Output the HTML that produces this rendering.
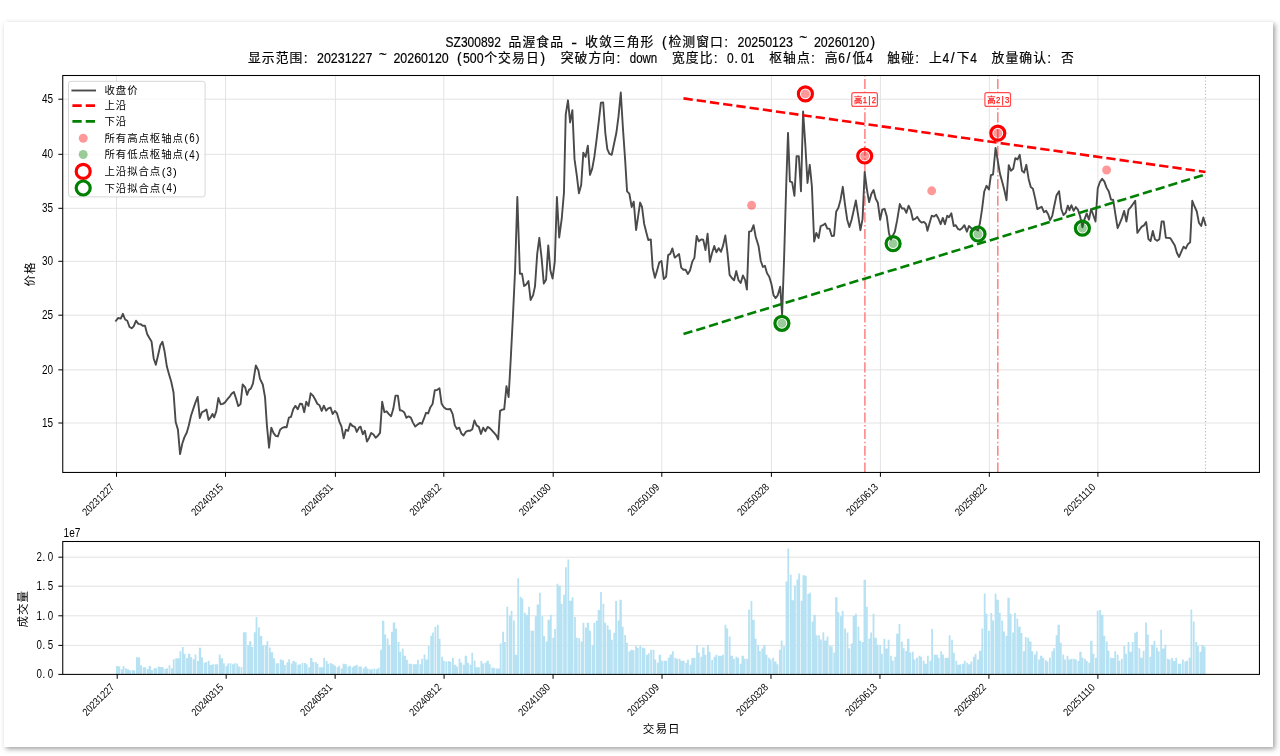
<!DOCTYPE html>
<html lang="zh-CN"><head><meta charset="utf-8"><title>SZ300892 品渥食品 - 收敛三角形</title>
<style>
html,body{margin:0;padding:0;background:#fff;}
body{width:1280px;height:756px;position:relative;overflow:hidden;}
.card{position:absolute;left:4px;top:22px;width:1269px;height:725px;background:#fff;box-shadow:2px 2px 5px rgba(0,0,0,0.38);}
svg{position:absolute;left:0;top:0;display:block;will-change:transform;}
text{white-space:pre;}
</style></head><body>
<div class="card"></div>
<svg width="1280" height="756" viewBox="0 0 1280 756" font-family='"Liberation Sans","Noto Sans CJK SC",sans-serif'>
<defs><clipPath id="cm"><rect x="62.75" y="75.5" width="1196.7" height="396.95"/></clipPath></defs>
<path d="M116.5 75.5V472.45M225.5 75.5V472.45M335.4 75.5V472.45M443.8 75.5V472.45M553.2 75.5V472.45M661.8 75.5V472.45M771.4 75.5V472.45M880.4 75.5V472.45M989.3 75.5V472.45M1097.9 75.5V472.45M62.75 423H1259.45M62.75 369.85H1259.45M62.75 315.2H1259.45M62.75 261.3H1259.45M62.75 208.3H1259.45M62.75 154.3H1259.45M62.75 99.2H1259.45" stroke="#e3e3e3" stroke-width="1" fill="none"/>
<path d="M62.75 645.4H1259.45M62.75 615.8H1259.45M62.75 586.2H1259.45M62.75 557.2H1259.45" stroke="#e3e3e3" stroke-width="1" fill="none"/>
<path d="M116.02 674.4v-8.28h2.42v8.28zM118.44 674.4v-7.81h1.81v7.81zM120.86 674.4v-5.16h1.81v5.16zM122.67 674.4v-8.28h1.81v8.28zM125.09 674.4v-6.25h1.81v6.25zM126.9 674.4v-5.16h2.42v5.16zM129.32 674.4v-3.91h1.81v3.91zM131.73 674.4v-4.38h1.81v4.38zM133.55 674.4v-3.91h1.81v3.91zM135.96 674.4v-17.19h1.81v17.19zM137.78 674.4v-16.88h2.42v16.88zM140.19 674.4v-9.06h1.81v9.06zM142.61 674.4v-7.03h1.81v7.03zM144.42 674.4v-7.03h1.81v7.03zM146.84 674.4v-5.47h1.81v5.47zM148.65 674.4v-8.28h2.42v8.28zM151.07 674.4v-4.38h1.81v4.38zM153.49 674.4v-6.25h1.81v6.25zM155.3 674.4v-6.25h1.81v6.25zM157.72 674.4v-7.81h1.81v7.81zM159.53 674.4v-7.34h2.42v7.34zM161.95 674.4v-7.03h1.81v7.03zM164.37 674.4v-5.47h1.81v5.47zM166.18 674.4v-6.25h1.81v6.25zM168.6 674.4v-9.06h1.81v9.06zM171.01 674.4v-6.25h1.81v6.25zM172.83 674.4v-15.16h1.81v15.16zM175.24 674.4v-16.09h1.81v16.09zM177.06 674.4v-16.09h2.42v16.09zM179.47 674.4v-23.12h1.81v23.12zM181.89 674.4v-27.34h1.81v27.34zM183.7 674.4v-20.31h1.81v20.31zM186.12 674.4v-16.41h1.81v16.41zM187.93 674.4v-20.62h2.42v20.62zM190.35 674.4v-17.19h1.81v17.19zM192.77 674.4v-15.16h1.81v15.16zM194.58 674.4v-20h1.81v20zM197 674.4v-13.28h1.81v13.28zM198.81 674.4v-26.56h2.42v26.56zM201.23 674.4v-16.88h1.81v16.88zM203.64 674.4v-11.72h1.81v11.72zM205.46 674.4v-12.5h1.81v12.5zM207.87 674.4v-13.75h1.81v13.75zM209.69 674.4v-9.38h2.42v9.38zM212.1 674.4v-10.16h1.81v10.16zM214.52 674.4v-10.16h1.81v10.16zM216.33 674.4v-10.16h1.81v10.16zM218.75 674.4v-20h1.81v20zM220.56 674.4v-16.09h2.42v16.09zM222.98 674.4v-11.25h1.81v11.25zM225.4 674.4v-8.28h1.81v8.28zM227.21 674.4v-10.94h1.81v10.94zM229.63 674.4v-11.25h1.81v11.25zM232.05 674.4v-10.16h1.81v10.16zM233.86 674.4v-11.25h1.81v11.25zM236.28 674.4v-10.94h1.81v10.94zM238.09 674.4v-7.81h1.81v7.81zM240.51 674.4v-7.5h1.81v7.5zM242.92 674.4v-42.19h1.81v42.19zM244.74 674.4v-42.19h1.81v42.19zM247.15 674.4v-29.38h1.81v29.38zM248.97 674.4v-33.12h2.42v33.12zM251.38 674.4v-27.34h1.81v27.34zM253.8 674.4v-42.19h1.81v42.19zM255.61 674.4v-57.34h1.81v57.34zM258.03 674.4v-47.19h1.81v47.19zM259.84 674.4v-38.28h2.42v38.28zM262.26 674.4v-28.91h1.81v28.91zM264.68 674.4v-29.38h1.81v29.38zM266.49 674.4v-33.12h1.81v33.12zM268.91 674.4v-26.88h1.81v26.88zM270.72 674.4v-22.19h2.42v22.19zM273.14 674.4v-16.09h1.81v16.09zM275.55 674.4v-11.25h1.81v11.25zM277.37 674.4v-11.25h1.81v11.25zM279.78 674.4v-15.16h1.81v15.16zM281.6 674.4v-14.06h2.42v14.06zM284.01 674.4v-9.38h1.81v9.38zM286.43 674.4v-12.19h1.81v12.19zM288.24 674.4v-15.16h1.81v15.16zM290.66 674.4v-10.94h1.81v10.94zM292.47 674.4v-13.28h2.42v13.28zM294.89 674.4v-12.19h1.81v12.19zM297.31 674.4v-9.69h1.81v9.69zM299.12 674.4v-10.16h1.81v10.16zM301.54 674.4v-11.41h1.81v11.41zM303.96 674.4v-11.41h1.81v11.41zM305.77 674.4v-10.16h1.81v10.16zM308.19 674.4v-7.03h1.81v7.03zM310 674.4v-16.41h2.42v16.41zM312.42 674.4v-12.5h1.81v12.5zM314.83 674.4v-12.5h1.81v12.5zM316.65 674.4v-10.62h1.81v10.62zM319.06 674.4v-7.03h1.81v7.03zM320.88 674.4v-7.03h2.42v7.03zM323.29 674.4v-16.72h1.81v16.72zM325.71 674.4v-13.28h1.81v13.28zM327.52 674.4v-10.62h1.81v10.62zM329.94 674.4v-11.41h1.81v11.41zM331.75 674.4v-10.16h2.42v10.16zM334.17 674.4v-8.59h1.81v8.59zM336.59 674.4v-7.03h1.81v7.03zM338.4 674.4v-8.59h1.81v8.59zM340.82 674.4v-5.78h1.81v5.78zM342.63 674.4v-10.62h2.42v10.62zM345.05 674.4v-10.16h1.81v10.16zM347.46 674.4v-7.81h1.81v7.81zM349.28 674.4v-8.59h1.81v8.59zM351.69 674.4v-7.03h1.81v7.03zM353.51 674.4v-8.59h2.42v8.59zM355.92 674.4v-9.69h1.81v9.69zM358.34 674.4v-7.81h1.81v7.81zM360.15 674.4v-7.81h1.81v7.81zM362.57 674.4v-5.78h1.81v5.78zM364.38 674.4v-7.81h2.42v7.81zM366.8 674.4v-5.78h1.81v5.78zM369.22 674.4v-5.16h1.81v5.16zM371.03 674.4v-5.16h1.81v5.16zM373.45 674.4v-5.78h1.81v5.78zM375.87 674.4v-5.16h1.81v5.16zM377.68 674.4v-6.72h1.81v6.72zM380.1 674.4v-24.69h1.81v24.69zM381.91 674.4v-53.59h2.42v53.59zM384.33 674.4v-39.84h1.81v39.84zM386.74 674.4v-35.94h1.81v35.94zM388.56 674.4v-29.38h1.81v29.38zM390.97 674.4v-42.66h1.81v42.66zM392.79 674.4v-51.88h2.42v51.88zM395.2 674.4v-45.78h1.81v45.78zM397.62 674.4v-32.34h1.81v32.34zM399.43 674.4v-22.66h1.81v22.66zM401.85 674.4v-25.78h1.81v25.78zM403.66 674.4v-18.75h2.42v18.75zM406.08 674.4v-14.53h1.81v14.53zM408.5 674.4v-10.62h1.81v10.62zM410.31 674.4v-10.62h1.81v10.62zM412.73 674.4v-10.16h1.81v10.16zM414.54 674.4v-10.16h2.42v10.16zM416.96 674.4v-14.53h1.81v14.53zM419.37 674.4v-10.16h1.81v10.16zM421.19 674.4v-15.62h1.81v15.62zM423.6 674.4v-19.84h1.81v19.84zM425.42 674.4v-14.84h2.42v14.84zM427.83 674.4v-28.44h1.81v28.44zM430.25 674.4v-38.59h1.81v38.59zM432.06 674.4v-41.88h1.81v41.88zM434.48 674.4v-47.66h1.81v47.66zM436.9 674.4v-49.69h1.81v49.69zM438.71 674.4v-35.62h1.81v35.62zM441.13 674.4v-17.66h1.81v17.66zM442.94 674.4v-13.75h1.81v13.75zM445.36 674.4v-12.97h1.81v12.97zM447.78 674.4v-13.28h1.81v13.28zM449.59 674.4v-12.5h1.81v12.5zM452.01 674.4v-16.72h1.81v16.72zM453.82 674.4v-9.69h2.42v9.69zM456.24 674.4v-7.81h1.81v7.81zM458.65 674.4v-15.62h1.81v15.62zM460.47 674.4v-11.72h1.81v11.72zM462.88 674.4v-9.69h1.81v9.69zM464.7 674.4v-18.75h2.42v18.75zM467.11 674.4v-11.72h1.81v11.72zM469.53 674.4v-9.69h1.81v9.69zM471.34 674.4v-21.56h1.81v21.56zM473.76 674.4v-13.75h1.81v13.75zM475.57 674.4v-7.03h2.42v7.03zM477.99 674.4v-7.03h1.81v7.03zM480.41 674.4v-13.28h1.81v13.28zM482.22 674.4v-10.94h1.81v10.94zM484.64 674.4v-11.72h1.81v11.72zM486.45 674.4v-13.75h2.42v13.75zM488.87 674.4v-10.16h1.81v10.16zM491.28 674.4v-6.72h1.81v6.72zM493.1 674.4v-6.72h1.81v6.72zM495.51 674.4v-5.78h1.81v5.78zM497.33 674.4v-5.78h2.42v5.78zM499.74 674.4v-30.78h1.81v30.78zM502.16 674.4v-42.66h1.81v42.66zM503.97 674.4v-32.34h1.81v32.34zM506.39 674.4v-67.66h1.81v67.66zM508.81 674.4v-58.59h1.81v58.59zM510.62 674.4v-63.59h1.81v63.59zM513.04 674.4v-53.91h1.81v53.91zM514.85 674.4v-19.53h2.42v19.53zM517.27 674.4v-96.09h1.81v96.09zM519.69 674.4v-77.66h1.81v77.66zM521.5 674.4v-75.78h1.81v75.78zM523.92 674.4v-61.72h1.81v61.72zM525.73 674.4v-59.69h2.42v59.69zM528.15 674.4v-67.66h1.81v67.66zM530.56 674.4v-43.75h1.81v43.75zM532.38 674.4v-43.75h1.81v43.75zM534.79 674.4v-58.12h1.81v58.12zM536.61 674.4v-69.84h2.42v69.84zM539.02 674.4v-81.56h1.81v81.56zM541.44 674.4v-58.12h1.81v58.12zM543.25 674.4v-38.28h1.81v38.28zM545.67 674.4v-32.81h1.81v32.81zM547.48 674.4v-54.69h2.42v54.69zM549.9 674.4v-59.69h1.81v59.69zM552.32 674.4v-36.72h1.81v36.72zM554.13 674.4v-45.31h1.81v45.31zM556.55 674.4v-90.62h1.81v90.62zM558.36 674.4v-88.59h2.42v88.59zM560.78 674.4v-70.62h1.81v70.62zM563.19 674.4v-79.69h1.81v79.69zM565.01 674.4v-107.03h1.81v107.03zM567.42 674.4v-114.84h1.81v114.84zM569.24 674.4v-73.75h2.42v73.75zM571.65 674.4v-77.03h1.81v77.03zM574.07 674.4v-57.5h1.81v57.5zM575.88 674.4v-36.72h1.81v36.72zM578.3 674.4v-36.25h1.81v36.25zM580.72 674.4v-32.81h1.81v32.81zM582.53 674.4v-51.56h1.81v51.56zM584.95 674.4v-46.88h1.81v46.88zM586.76 674.4v-51.56h2.42v51.56zM589.18 674.4v-43.75h1.81v43.75zM591.6 674.4v-28.91h1.81v28.91zM593.41 674.4v-51.56h1.81v51.56zM595.83 674.4v-53.59h1.81v53.59zM597.64 674.4v-64.38h2.42v64.38zM600.06 674.4v-82.5h1.81v82.5zM602.47 674.4v-70.62h1.81v70.62zM604.29 674.4v-51.56h1.81v51.56zM606.7 674.4v-49.22h1.81v49.22zM608.52 674.4v-44.53h2.42v44.53zM610.93 674.4v-34.69h1.81v34.69zM613.35 674.4v-41.72h1.81v41.72zM615.16 674.4v-73.44h1.81v73.44zM617.58 674.4v-53.91h1.81v53.91zM619.39 674.4v-74.69h2.42v74.69zM621.81 674.4v-47.66h1.81v47.66zM624.23 674.4v-39.38h1.81v39.38zM626.04 674.4v-31.72h1.81v31.72zM628.46 674.4v-22.97h1.81v22.97zM630.27 674.4v-24.69h2.42v24.69zM632.69 674.4v-24.22h1.81v24.22zM635.1 674.4v-28.44h1.81v28.44zM636.92 674.4v-26.56h1.81v26.56zM639.33 674.4v-28.91h1.81v28.91zM641.75 674.4v-26.88h1.81v26.88zM643.56 674.4v-26.25h1.81v26.25zM645.98 674.4v-19.53h1.81v19.53zM647.79 674.4v-21.09h1.81v21.09zM650.21 674.4v-24.69h1.81v24.69zM652.63 674.4v-24.69h1.81v24.69zM654.44 674.4v-14.84h1.81v14.84zM656.86 674.4v-11.72h1.81v11.72zM658.67 674.4v-19.53h2.42v19.53zM661.09 674.4v-13.75h1.81v13.75zM663.51 674.4v-13.75h1.81v13.75zM665.32 674.4v-13.75h1.81v13.75zM667.74 674.4v-16.72h1.81v16.72zM669.55 674.4v-19.84h2.42v19.84zM671.97 674.4v-23.12h1.81v23.12zM674.38 674.4v-16.72h1.81v16.72zM676.2 674.4v-15.62h1.81v15.62zM678.61 674.4v-15.62h1.81v15.62zM680.43 674.4v-13.75h2.42v13.75zM682.84 674.4v-13.75h1.81v13.75zM685.26 674.4v-11.72h1.81v11.72zM687.07 674.4v-14.84h1.81v14.84zM689.49 674.4v-9.69h1.81v9.69zM691.3 674.4v-16.41h2.42v16.41zM693.72 674.4v-16.72h1.81v16.72zM696.14 674.4v-29.38h1.81v29.38zM697.95 674.4v-21.56h1.81v21.56zM700.37 674.4v-17.66h1.81v17.66zM702.18 674.4v-26.88h2.42v26.88zM704.6 674.4v-19.53h1.81v19.53zM707.01 674.4v-29.38h1.81v29.38zM708.83 674.4v-22.66h1.81v22.66zM711.24 674.4v-14.53h1.81v14.53zM713.66 674.4v-17.66h1.81v17.66zM715.47 674.4v-19.53h1.81v19.53zM717.89 674.4v-18.75h1.81v18.75zM719.7 674.4v-18.75h2.42v18.75zM722.12 674.4v-19.53h1.81v19.53zM724.54 674.4v-49.69h1.81v49.69zM726.35 674.4v-45.78h1.81v45.78zM728.77 674.4v-37.81h1.81v37.81zM730.58 674.4v-18.75h2.42v18.75zM733 674.4v-15.62h1.81v15.62zM735.42 674.4v-17.66h1.81v17.66zM737.23 674.4v-16.72h1.81v16.72zM739.65 674.4v-10.62h1.81v10.62zM741.46 674.4v-18.75h2.42v18.75zM743.88 674.4v-15.62h1.81v15.62zM746.29 674.4v-15.62h1.81v15.62zM748.11 674.4v-64.84h1.81v64.84zM750.52 674.4v-73.44h1.81v73.44zM752.34 674.4v-54.69h2.42v54.69zM754.75 674.4v-35.62h1.81v35.62zM757.17 674.4v-29.38h1.81v29.38zM758.98 674.4v-23.44h1.81v23.44zM761.4 674.4v-25.78h1.81v25.78zM763.21 674.4v-29.38h2.42v29.38zM765.63 674.4v-19.53h1.81v19.53zM768.05 674.4v-16.72h1.81v16.72zM769.86 674.4v-14.84h1.81v14.84zM772.28 674.4v-16.72h1.81v16.72zM774.09 674.4v-12.81h2.42v12.81zM776.51 674.4v-10.16h1.81v10.16zM778.92 674.4v-24.69h1.81v24.69zM780.74 674.4v-33.91h1.81v33.91zM783.15 674.4v-28.12h1.81v28.12zM785.57 674.4v-92.97h1.81v92.97zM787.38 674.4v-125.78h1.81v125.78zM789.8 674.4v-99.69h1.81v99.69zM791.61 674.4v-74.22h2.42v74.22zM794.03 674.4v-88.59h1.81v88.59zM796.45 674.4v-94.84h1.81v94.84zM798.26 674.4v-100.78h1.81v100.78zM800.68 674.4v-73.75h1.81v73.75zM802.49 674.4v-99.22h2.42v99.22zM804.91 674.4v-98.75h1.81v98.75zM807.33 674.4v-80.47h1.81v80.47zM809.14 674.4v-81.56h1.81v81.56zM811.56 674.4v-52.81h1.81v52.81zM813.37 674.4v-59.69h2.42v59.69zM815.79 674.4v-39.06h1.81v39.06zM818.2 674.4v-39.06h1.81v39.06zM820.02 674.4v-34.84h1.81v34.84zM822.43 674.4v-42.19h1.81v42.19zM824.25 674.4v-33.91h2.42v33.91zM826.66 674.4v-37.81h1.81v37.81zM829.08 674.4v-28.44h1.81v28.44zM830.89 674.4v-27.81h1.81v27.81zM833.31 674.4v-21.88h1.81v21.88zM835.12 674.4v-77.03h2.42v77.03zM837.54 674.4v-62.03h1.81v62.03zM839.96 674.4v-58.12h1.81v58.12zM841.77 674.4v-63.59h1.81v63.59zM844.19 674.4v-45.78h1.81v45.78zM846.6 674.4v-41.88h1.81v41.88zM848.42 674.4v-26.25h1.81v26.25zM850.83 674.4v-30.78h1.81v30.78zM852.65 674.4v-58.59h2.42v58.59zM855.06 674.4v-60.62h1.81v60.62zM857.48 674.4v-47.97h1.81v47.97zM859.29 674.4v-33.59h1.81v33.59zM861.71 674.4v-32.34h1.81v32.34zM863.52 674.4v-94.53h2.42v94.53zM865.94 674.4v-67.66h1.81v67.66zM868.36 674.4v-35.94h1.81v35.94zM870.17 674.4v-41.88h1.81v41.88zM872.59 674.4v-60.62h1.81v60.62zM874.4 674.4v-36.72h2.42v36.72zM876.82 674.4v-29.69h1.81v29.69zM879.24 674.4v-29.38h1.81v29.38zM881.05 674.4v-20.62h1.81v20.62zM883.47 674.4v-35.62h1.81v35.62zM885.28 674.4v-25.78h2.42v25.78zM887.7 674.4v-34.69h1.81v34.69zM890.11 674.4v-18.75h1.81v18.75zM891.93 674.4v-13.75h1.81v13.75zM894.34 674.4v-17.66h1.81v17.66zM896.16 674.4v-40.62h2.42v40.62zM898.57 674.4v-50.47h1.81v50.47zM900.99 674.4v-32.81h1.81v32.81zM902.8 674.4v-26.25h1.81v26.25zM905.22 674.4v-23.44h1.81v23.44zM907.03 674.4v-35.62h2.42v35.62zM909.45 674.4v-21.88h1.81v21.88zM911.87 674.4v-22.66h1.81v22.66zM913.68 674.4v-14.84h1.81v14.84zM916.1 674.4v-16.72h1.81v16.72zM918.51 674.4v-18.75h1.81v18.75zM920.33 674.4v-17.66h1.81v17.66zM922.74 674.4v-13.75h1.81v13.75zM924.56 674.4v-10.62h2.42v10.62zM926.97 674.4v-18.75h1.81v18.75zM929.39 674.4v-13.75h1.81v13.75zM931.2 674.4v-45.31h1.81v45.31zM933.62 674.4v-19.53h1.81v19.53zM935.43 674.4v-19.53h2.42v19.53zM937.85 674.4v-16.72h1.81v16.72zM940.27 674.4v-23.12h1.81v23.12zM942.08 674.4v-19.84h1.81v19.84zM944.5 674.4v-16.41h1.81v16.41zM946.31 674.4v-16.72h2.42v16.72zM948.73 674.4v-39.06h1.81v39.06zM951.15 674.4v-34.69h1.81v34.69zM952.96 674.4v-21.56h1.81v21.56zM955.38 674.4v-13.75h1.81v13.75zM957.19 674.4v-9.69h2.42v9.69zM959.61 674.4v-10.16h1.81v10.16zM962.02 674.4v-10.62h1.81v10.62zM963.84 674.4v-13.75h1.81v13.75zM966.25 674.4v-11.72h1.81v11.72zM968.07 674.4v-10.16h2.42v10.16zM970.48 674.4v-12.81h1.81v12.81zM972.9 674.4v-17.66h1.81v17.66zM974.71 674.4v-20.62h1.81v20.62zM977.13 674.4v-14.84h1.81v14.84zM978.94 674.4v-23.75h2.42v23.75zM981.36 674.4v-45.78h1.81v45.78zM983.78 674.4v-80.78h1.81v80.78zM985.59 674.4v-60.62h1.81v60.62zM988.01 674.4v-43.75h1.81v43.75zM990.42 674.4v-61.41h1.81v61.41zM992.24 674.4v-53.91h1.81v53.91zM994.65 674.4v-80.78h1.81v80.78zM996.47 674.4v-74.69h2.42v74.69zM998.88 674.4v-61.72h1.81v61.72zM1001.3 674.4v-53.91h1.81v53.91zM1003.11 674.4v-42.97h1.81v42.97zM1005.53 674.4v-38.59h1.81v38.59zM1007.34 674.4v-76.56h2.42v76.56zM1009.76 674.4v-60.62h1.81v60.62zM1012.18 674.4v-41.88h1.81v41.88zM1013.99 674.4v-61.41h1.81v61.41zM1016.41 674.4v-55.78h1.81v55.78zM1018.22 674.4v-47.66h2.42v47.66zM1020.64 674.4v-41.41h1.81v41.41zM1023.06 674.4v-23.12h1.81v23.12zM1024.87 674.4v-37.5h1.81v37.5zM1027.29 674.4v-36.72h1.81v36.72zM1029.1 674.4v-32.81h2.42v32.81zM1031.52 674.4v-23.12h1.81v23.12zM1033.93 674.4v-20h1.81v20zM1035.75 674.4v-23.12h1.81v23.12zM1038.16 674.4v-14.84h1.81v14.84zM1039.98 674.4v-18.75h2.42v18.75zM1042.39 674.4v-16.41h1.81v16.41zM1044.81 674.4v-14.06h1.81v14.06zM1046.62 674.4v-12.81h1.81v12.81zM1049.04 674.4v-16.72h1.81v16.72zM1051.46 674.4v-23.12h1.81v23.12zM1053.27 674.4v-26.25h1.81v26.25zM1055.69 674.4v-39.06h1.81v39.06zM1057.5 674.4v-49.69h2.42v49.69zM1059.92 674.4v-31.72h1.81v31.72zM1062.33 674.4v-19.84h1.81v19.84zM1064.15 674.4v-14.84h1.81v14.84zM1066.56 674.4v-18.75h1.81v18.75zM1068.38 674.4v-14.84h2.42v14.84zM1070.79 674.4v-15.62h1.81v15.62zM1073.21 674.4v-15.62h1.81v15.62zM1075.02 674.4v-14.84h1.81v14.84zM1077.44 674.4v-13.28h1.81v13.28zM1079.25 674.4v-22.66h2.42v22.66zM1081.67 674.4v-16.72h1.81v16.72zM1084.09 674.4v-15.62h1.81v15.62zM1085.9 674.4v-13.28h1.81v13.28zM1088.32 674.4v-11.72h1.81v11.72zM1090.13 674.4v-33.59h2.42v33.59zM1092.55 674.4v-20.62h1.81v20.62zM1094.97 674.4v-16.72h1.81v16.72zM1096.78 674.4v-63.59h1.81v63.59zM1099.2 674.4v-64.38h1.81v64.38zM1101.01 674.4v-59.69h2.42v59.69zM1103.43 674.4v-38.59h1.81v38.59zM1105.84 674.4v-32.81h1.81v32.81zM1107.66 674.4v-23.75h1.81v23.75zM1110.07 674.4v-16.72h1.81v16.72zM1111.89 674.4v-16.41h2.42v16.41zM1114.3 674.4v-23.12h1.81v23.12zM1116.72 674.4v-19.53h1.81v19.53zM1118.53 674.4v-13.75h1.81v13.75zM1120.95 674.4v-15.62h1.81v15.62zM1123.37 674.4v-28.44h1.81v28.44zM1125.18 674.4v-20.62h1.81v20.62zM1127.6 674.4v-32.34h1.81v32.34zM1129.41 674.4v-22.66h2.42v22.66zM1131.83 674.4v-32.34h1.81v32.34zM1134.24 674.4v-41.72h1.81v41.72zM1136.06 674.4v-42.66h1.81v42.66zM1138.47 674.4v-26.25h1.81v26.25zM1140.29 674.4v-16.72h2.42v16.72zM1142.7 674.4v-23.75h1.81v23.75zM1145.12 674.4v-51.88h1.81v51.88zM1146.93 674.4v-39.84h1.81v39.84zM1149.35 674.4v-17.66h1.81v17.66zM1151.16 674.4v-29.69h2.42v29.69zM1153.58 674.4v-33.59h1.81v33.59zM1156 674.4v-26.88h1.81v26.88zM1157.81 674.4v-23.12h1.81v23.12zM1160.23 674.4v-44.53h1.81v44.53zM1162.04 674.4v-25.78h2.42v25.78zM1164.46 674.4v-29.69h1.81v29.69zM1166.88 674.4v-15.62h1.81v15.62zM1168.69 674.4v-14.84h1.81v14.84zM1171.11 674.4v-16.41h1.81v16.41zM1172.92 674.4v-13.28h2.42v13.28zM1175.34 674.4v-16.72h1.81v16.72zM1177.75 674.4v-10.62h1.81v10.62zM1179.57 674.4v-10.62h1.81v10.62zM1181.98 674.4v-14.84h1.81v14.84zM1184.4 674.4v-12.81h1.81v12.81zM1186.21 674.4v-13.75h1.81v13.75zM1188.63 674.4v-16.72h1.81v16.72zM1190.44 674.4v-64.84h1.81v64.84zM1192.86 674.4v-52.81h1.81v52.81zM1195.28 674.4v-32.34h1.81v32.34zM1197.09 674.4v-28.44h1.81v28.44zM1199.51 674.4v-22.66h1.81v22.66zM1201.32 674.4v-29.38h2.42v29.38zM1203.74 674.4v-27.81h1.81v27.81z" fill="#b7e2f3"/>
<path d="M864.9 472.45V75.5M997.8 472.45V75.5" stroke="#ff8080" stroke-width="1.5" stroke-dasharray="10.06 2.52 1.57 2.52" fill="none"/>
<path d="M1205.5 472.45V75.5" stroke="#bfbfbf" stroke-width="1.2" stroke-dasharray="1.26 2.08" fill="none"/>
<polyline clip-path="url(#cm)" points="115.96,320.74 118.22,317.97 120.74,318.6 122.88,313.83 125.14,319.48 127.27,320.74 129.54,327.02 131.67,328.28 133.68,326.39 136.07,320.74 138.33,323.88 140.47,324.13 142.73,325.77 145,325.77 147.13,333.94 149.4,338.08 151.53,341.48 153.67,358.44 155.81,364.73 158.07,355.3 160.33,345.25 162.47,341.73 164.6,351.53 166.87,366.61 169,374.16 171.26,381.7 173.53,392.54 175.66,422.08 177.93,429.62 180.06,454.13 182.33,443.44 184.46,437.16 186.72,432.76 188.86,425.22 191,415.79 193.26,408.88 195.4,402.6 197.66,396.94 199.8,417.93 202.06,412.02 204.19,411.14 206.46,409.51 208.59,419.94 210.86,417.05 212.49,413.91 214.12,417.43 216.26,411.39 218.4,397.95 220.66,404.23 222.8,403.85 225.06,402.34 227.2,399.45 229.46,396.94 231.59,393.8 233.86,391.91 236.12,398.83 238.26,406.12 240.52,404.1 242.66,384.46 245.17,387.35 247.05,394.89 248.94,389.87 250.82,388.61 252.96,383.58 255.85,365.36 258.37,370.38 260,378.88 262.77,384.54 265.03,397.11 266.91,425.38 269.05,447.76 271.31,427.65 273.45,432.93 275.71,435.82 277.85,436.45 280.11,429.78 282.25,427.9 284.51,427.02 286.65,427.27 288.91,417.59 291.04,416.84 293.31,409.05 295.44,405.9 297.71,409.3 299.97,403.77 302.11,404.02 304.24,412.19 306.25,401.76 308.52,405.9 310.65,393.33 312.91,395.6 315.05,399.24 317.31,403.77 319.45,405.27 321.71,410.93 323.85,405.65 326.11,410.68 328.25,408.42 330.51,407.54 332.65,414.07 334.91,410.93 337.05,413.44 339.31,421.61 341.45,426.39 343.71,438.33 345.84,429.78 348.11,430.79 350.24,423.5 352.51,426.01 354.89,426.89 356.78,431.92 359.04,427.65 360.55,426.64 362.81,434.18 364.82,430.79 366.96,441.47 369.1,437.95 371.23,432.93 373.5,434.43 375.63,437.7 377.89,435.69 380.03,432.93 382.17,401.76 384.43,412.19 386.69,411.31 388.83,414.07 391.09,416.21 393.23,409.05 395.49,395.6 397.88,395.6 399.89,410.3 402.03,410.68 404.16,412.19 406.43,417.84 408.56,416.34 410.82,417.59 412.96,422.62 415.22,426.39 417.36,424.76 420,422.87 421.89,423.88 424.02,418.47 426.03,412.82 428.17,413.44 430.43,407.16 432.57,404.02 434.83,390.19 436.97,389.94 439.48,388.31 441.62,403.77 443.88,407.16 446.14,409.05 448.28,409.3 450.42,409.05 452.68,414.07 454.82,425.38 456.95,428.9 459.21,427.65 461.35,433.55 463.49,435.44 465.75,431.92 467.89,430.79 470.15,430.79 472.29,429.16 474.42,420.36 476.56,425.38 478.82,426.89 480.96,433.93 483.22,427.65 485.36,431.29 487.62,426.89 489.76,428.15 491.89,430.41 494.16,432.93 496.29,435.44 498.18,439.46 500.06,410.93 502.33,409.67 504.21,409.3 506.47,386.17 508.61,397.11 510.8,358 513,315 515.1,270 517.33,196.97 519.92,273.8 522.06,273.8 524.07,286.12 526.21,284.48 528.47,281.09 530.6,299.94 533.12,295.16 535,286.37 537.19,254.16 539.32,237.82 541.59,257.93 543.8,283.6 546.06,279.83 548.25,245.36 550.38,270.49 552.6,278.57 554.78,261.7 556.92,196.97 559.18,237.56 561.7,218.96 563.96,192.57 565.72,114.54 567.98,100.33 570.12,122.45 572.38,110.14 574.52,159.16 576.78,175.49 578.92,193.22 581.18,185.05 583.32,152.62 585.58,156.89 587.84,145.71 589.98,174.87 592.24,168.58 594.38,156.64 596.64,139.05 598.77,121.45 600.91,102.6 603.17,102.34 605.31,132.76 607.32,149.1 609.46,153.88 611.72,154.76 614.11,143.44 616.37,132.76 618.51,116.42 620.77,92.54 622.91,127.73 625.17,160.41 627.05,191.31 629.32,193.57 631.7,207.02 633.72,201.62 636.1,230.02 640.11,202.57 642,206.97 644.13,223.68 646.39,232.73 648.28,240.02 650.79,239.4 652.68,267.67 654.94,277.73 657.08,270.44 659.34,262.27 661.48,261.01 663.74,278.99 666.13,276.72 668.14,255.11 670.27,253.85 672.41,248.44 674.67,257.62 676.81,255.99 679.07,254.1 681.21,267.67 683.47,269.81 685.61,269.81 687.87,273.96 690.01,270.44 692.27,261.64 694.41,257.87 696.67,235.88 698.81,241.28 701.07,239.4 703.21,239.65 705.47,250.08 707.6,233.74 709.87,261.89 712,253.22 714.27,245.93 716.4,252.22 718.66,248.19 720.93,251.84 723.06,245.68 725.33,235.5 727.46,252.84 729.6,274.84 731.86,277.98 734.12,280.24 736.26,271.07 738.52,280.24 740.66,283.01 742.92,275.47 745.06,279.87 746.91,289.65 749.05,231.7 751.31,231.07 753.57,225.16 755.71,236.72 758.6,246.28 760.74,260.74 762.88,267.02 764.89,265.77 767.02,273.31 769.16,276.45 771.42,283.99 773.56,295.3 775.57,298.07 777.71,295.3 780.22,286.76 782.11,315.16 784.1,258 786.2,186 788.01,132.84 789.9,181.42 792.16,182.43 794.42,195.88 796.56,156.28 798.82,156.28 800.96,191.23 803.1,111.48 805.36,145.41 807.49,182.93 809.76,164.83 811.89,186.45 814.16,241.5 816.29,232.95 818.55,237.98 820.69,226.04 822.95,225.16 825.22,223.53 827.35,228.55 829.62,228.93 831.75,236.1 834.01,235.72 836.15,211.84 838.41,207.82 840.55,199.65 842.81,186.83 844.95,204.05 847.21,219.76 849.35,227.05 851.61,219.76 853.75,210.33 855.88,200.53 858.15,215.36 860.41,230.19 862.55,219.13 864.68,172 866.94,189.59 869.08,202.16 871.34,193.99 873.61,189.97 875.74,198.77 877.88,202.79 880.14,219.76 882.28,209.7 884.54,208.82 886.8,216.36 888.94,232.95 890.82,239.49 894.85,231.7 897.11,220.38 899.8,204.05 901.94,208.44 904.2,208.44 906.34,212.84 908.6,205.68 910.74,210.08 912.88,219.76 915.14,218.88 917.27,216.87 919.54,220.76 921.67,222.65 923.94,221.89 926.07,224.16 927.45,230.82 929.59,222.9 931.73,215.73 933.99,216.61 936.25,214.73 938.39,218.5 940.65,224.16 942.79,217.87 944.93,224.16 947.19,215.73 949.07,217.24 951.34,213.22 953.72,226.04 955.73,225.16 957.87,228.81 960.01,229.81 962.27,227.93 964.41,225.16 966.92,231.7 968.93,226.04 971.07,227.93 973.21,230.44 975.47,228.93 977.98,230.44 979.87,223.53 982,209.7 984.27,191.48 986.53,185.82 988.92,189.59 990.93,175.14 993.06,174.51 995.58,147.93 999.98,173.88 1002.11,181.42 1004.38,190.22 1006.51,200.27 1008.77,165.08 1010.91,170.74 1013.17,168.85 1015.31,158.17 1017.57,159.43 1019.71,154.78 1021.97,170.74 1024.11,172.62 1026.37,164.83 1028.63,178.91 1030.77,187.08 1032.91,188.71 1035.17,198.39 1037.31,209.07 1039.57,207.82 1041.7,206.81 1043.97,212.22 1046.1,210.71 1048.37,214.73 1050,220.3 1052.26,215.9 1054.4,205.22 1056.54,195.16 1059.05,191.14 1061.31,208.99 1063.45,215.02 1065.71,212.76 1067.85,205.6 1069.48,210.25 1071.37,205.22 1073.63,210.88 1075.77,207.11 1077.9,209.62 1080.16,216.53 1082.43,227.22 1084.56,219.05 1086.7,213.39 1088.96,219.67 1091.1,208.99 1093.36,215.27 1095.5,221.56 1097.76,188.25 1099.9,181.97 1102.16,178.83 1104.3,181.34 1106.56,187.62 1108.82,191.39 1110.96,199.56 1113.22,199.94 1115.36,214.02 1117.62,228.22 1119.76,223.44 1122.02,217.79 1124.16,210.88 1126.42,221.56 1128.55,209.62 1130.82,207.11 1132.95,203.96 1135.22,200.82 1137.35,232.87 1139.49,229.73 1141.75,226.59 1144.01,225.33 1146.15,221.94 1148.41,239.16 1150.55,241.04 1152.81,230.99 1154.95,239.16 1157.21,240.79 1159.35,239.16 1161.61,221.56 1163.75,221.56 1165.88,237.9 1168.15,237.9 1170.41,238.28 1172.55,241.67 1174.81,245.44 1176.94,252.98 1179.08,257 1181.34,251.72 1183.61,246.7 1185.74,248.58 1187.88,244.18 1190.14,242.3 1192.28,200.82 1194.54,206.48 1196.8,211.5 1198.94,222.82 1201.2,225.96 1203.34,217.54 1205.6,225.08" fill="none" stroke="#4a4a4a" stroke-width="1.9" stroke-linejoin="round" stroke-linecap="square"/>
<path d="M683.5 98.4L1205.5 172.0" stroke="#ff0000" stroke-width="2.6" stroke-dasharray="9.316 4.028" fill="none"/>
<path d="M683.5 334.05L1205.5 174.4" stroke="#008000" stroke-width="2.6" stroke-dasharray="9.316 4.028" fill="none"/>
<circle cx="751.6" cy="205.3" r="4.45" fill="#ff0000" fill-opacity="0.4"/>
<circle cx="805.4" cy="93.9" r="4.45" fill="#ff0000" fill-opacity="0.4"/>
<circle cx="864.7" cy="156.0" r="4.45" fill="#ff0000" fill-opacity="0.4"/>
<circle cx="931.7" cy="190.8" r="4.45" fill="#ff0000" fill-opacity="0.4"/>
<circle cx="997.8" cy="133.2" r="4.45" fill="#ff0000" fill-opacity="0.4"/>
<circle cx="1106.6" cy="170.0" r="4.45" fill="#ff0000" fill-opacity="0.4"/>
<circle cx="781.9" cy="323.3" r="4.45" fill="#008000" fill-opacity="0.4"/>
<circle cx="893.1" cy="243.6" r="4.45" fill="#008000" fill-opacity="0.4"/>
<circle cx="978.0" cy="234.0" r="4.45" fill="#008000" fill-opacity="0.4"/>
<circle cx="1082.4" cy="228.2" r="4.45" fill="#008000" fill-opacity="0.4"/>
<circle cx="805.4" cy="93.9" r="7.0" fill="none" stroke="#ff0000" stroke-width="3.2"/>
<circle cx="864.7" cy="156.0" r="7.0" fill="none" stroke="#ff0000" stroke-width="3.2"/>
<circle cx="997.8" cy="133.2" r="7.0" fill="none" stroke="#ff0000" stroke-width="3.2"/>
<circle cx="781.9" cy="323.3" r="7.0" fill="none" stroke="#008000" stroke-width="3.2"/>
<circle cx="893.1" cy="243.6" r="7.0" fill="none" stroke="#008000" stroke-width="3.2"/>
<circle cx="978.0" cy="234.0" r="7.0" fill="none" stroke="#008000" stroke-width="3.2"/>
<circle cx="1082.4" cy="228.2" r="7.0" fill="none" stroke="#008000" stroke-width="3.2"/>
<rect x="851.8" y="92.7" width="25.6" height="13.7" rx="2" ry="2" fill="#fff" fill-opacity="0.85" stroke="#ff4d4d" stroke-width="1.2"/>
<text fill="#ff1a1a" stroke="#ff1a1a" stroke-width="0.25"><tspan x="854.11" y="102.78" font-size="8.28" letter-spacing="0.72">高</tspan><tspan x="862.84" y="103.1" font-size="9.54" textLength="4.32" lengthAdjust="spacingAndGlyphs">1</tspan><tspan x="868.33" y="103.1" font-size="9">|</tspan><tspan x="871.84" y="103.1" font-size="9.54" textLength="4.32" lengthAdjust="spacingAndGlyphs">2</tspan></text>
<rect x="984.9" y="92.7" width="25.6" height="13.7" rx="2" ry="2" fill="#fff" fill-opacity="0.85" stroke="#ff4d4d" stroke-width="1.2"/>
<text fill="#ff1a1a" stroke="#ff1a1a" stroke-width="0.25"><tspan x="987.21" y="102.78" font-size="8.28" letter-spacing="0.72">高</tspan><tspan x="995.94" y="103.1" font-size="9.54" textLength="4.32" lengthAdjust="spacingAndGlyphs">2</tspan><tspan x="1001.43" y="103.1" font-size="9">|</tspan><tspan x="1004.94" y="103.1" font-size="9.54" textLength="4.32" lengthAdjust="spacingAndGlyphs">3</tspan></text>
<rect x="62.75" y="75.5" width="1196.7" height="396.95" fill="none" stroke="#000" stroke-width="1.05"/>
<rect x="62.75" y="541.5" width="1196.7" height="132.89999999999998" fill="none" stroke="#000" stroke-width="1.05"/>
<path d="M116.5 472.45v4.4M117.2 674.4v4.4M225.5 472.45v4.4M226.17 674.4v4.4M335.4 472.45v4.4M335.13 674.4v4.4M443.8 472.45v4.4M444.09 674.4v4.4M553.2 472.45v4.4M553.06 674.4v4.4M661.8 472.45v4.4M662.03 674.4v4.4M771.4 472.45v4.4M770.99 674.4v4.4M880.4 472.45v4.4M879.96 674.4v4.4M989.3 472.45v4.4M988.92 674.4v4.4M1097.9 472.45v4.4M1097.88 674.4v4.4M62.75 423h-4.4M62.75 369.85h-4.4M62.75 315.2h-4.4M62.75 261.3h-4.4M62.75 208.3h-4.4M62.75 154.3h-4.4M62.75 99.2h-4.4M62.75 674.4h-4.4M62.75 645.4h-4.4M62.75 615.8h-4.4M62.75 586.2h-4.4M62.75 557.2h-4.4" stroke="#000" stroke-width="1" fill="none"/>
<text fill="#000"><tspan x="42.08" y="427" font-size="12.01" textLength="11.1" lengthAdjust="spacingAndGlyphs">15</tspan></text>
<text fill="#000"><tspan x="42.08" y="373.85" font-size="12.01" textLength="11.1" lengthAdjust="spacingAndGlyphs">20</tspan></text>
<text fill="#000"><tspan x="42.08" y="319.2" font-size="12.01" textLength="11.1" lengthAdjust="spacingAndGlyphs">25</tspan></text>
<text fill="#000"><tspan x="42.08" y="265.3" font-size="12.01" textLength="11.1" lengthAdjust="spacingAndGlyphs">30</tspan></text>
<text fill="#000"><tspan x="42.08" y="212.3" font-size="12.01" textLength="11.1" lengthAdjust="spacingAndGlyphs">35</tspan></text>
<text fill="#000"><tspan x="42.08" y="158.3" font-size="12.01" textLength="11.1" lengthAdjust="spacingAndGlyphs">40</tspan></text>
<text fill="#000"><tspan x="42.08" y="103.2" font-size="12.01" textLength="11.1" lengthAdjust="spacingAndGlyphs">45</tspan></text>
<text fill="#000"><tspan x="36.42" y="678.4" font-size="12.01" textLength="5.44" lengthAdjust="spacingAndGlyphs">0</tspan><tspan x="42.2" y="678.4" font-size="11.33">.</tspan><tspan x="47.75" y="678.4" font-size="12.01" textLength="5.44" lengthAdjust="spacingAndGlyphs">0</tspan></text>
<text fill="#000"><tspan x="36.42" y="649.4" font-size="12.01" textLength="5.44" lengthAdjust="spacingAndGlyphs">0</tspan><tspan x="42.2" y="649.4" font-size="11.33">.</tspan><tspan x="47.75" y="649.4" font-size="12.01" textLength="5.44" lengthAdjust="spacingAndGlyphs">5</tspan></text>
<text fill="#000"><tspan x="36.42" y="619.8" font-size="12.01" textLength="5.44" lengthAdjust="spacingAndGlyphs">1</tspan><tspan x="42.2" y="619.8" font-size="11.33">.</tspan><tspan x="47.75" y="619.8" font-size="12.01" textLength="5.44" lengthAdjust="spacingAndGlyphs">0</tspan></text>
<text fill="#000"><tspan x="36.42" y="590.2" font-size="12.01" textLength="5.44" lengthAdjust="spacingAndGlyphs">1</tspan><tspan x="42.2" y="590.2" font-size="11.33">.</tspan><tspan x="47.75" y="590.2" font-size="12.01" textLength="5.44" lengthAdjust="spacingAndGlyphs">5</tspan></text>
<text fill="#000"><tspan x="36.42" y="561.2" font-size="12.01" textLength="5.44" lengthAdjust="spacingAndGlyphs">2</tspan><tspan x="42.2" y="561.2" font-size="11.33">.</tspan><tspan x="47.75" y="561.2" font-size="12.01" textLength="5.44" lengthAdjust="spacingAndGlyphs">0</tspan></text>
<text fill="#000"><tspan x="63.61" y="536.8" font-size="12.01" textLength="16.77" lengthAdjust="spacingAndGlyphs">1e7</tspan></text>
<g transform="translate(114.9,487.85) rotate(-45)"><text fill="#000"><tspan x="-40.18" y="0" font-size="10.67" textLength="40.08" lengthAdjust="spacingAndGlyphs">20231227</tspan></text></g>
<g transform="translate(115.1,688) rotate(-45)"><text fill="#000"><tspan x="-40.18" y="0" font-size="10.67" textLength="40.08" lengthAdjust="spacingAndGlyphs">20231227</tspan></text></g>
<g transform="translate(223.9,487.85) rotate(-45)"><text fill="#000"><tspan x="-40.18" y="0" font-size="10.67" textLength="40.08" lengthAdjust="spacingAndGlyphs">20240315</tspan></text></g>
<g transform="translate(224.07,688) rotate(-45)"><text fill="#000"><tspan x="-40.18" y="0" font-size="10.67" textLength="40.08" lengthAdjust="spacingAndGlyphs">20240315</tspan></text></g>
<g transform="translate(333.8,487.85) rotate(-45)"><text fill="#000"><tspan x="-40.18" y="0" font-size="10.67" textLength="40.08" lengthAdjust="spacingAndGlyphs">20240531</tspan></text></g>
<g transform="translate(333.03,688) rotate(-45)"><text fill="#000"><tspan x="-40.18" y="0" font-size="10.67" textLength="40.08" lengthAdjust="spacingAndGlyphs">20240531</tspan></text></g>
<g transform="translate(442.2,487.85) rotate(-45)"><text fill="#000"><tspan x="-40.18" y="0" font-size="10.67" textLength="40.08" lengthAdjust="spacingAndGlyphs">20240812</tspan></text></g>
<g transform="translate(441.99,688) rotate(-45)"><text fill="#000"><tspan x="-40.18" y="0" font-size="10.67" textLength="40.08" lengthAdjust="spacingAndGlyphs">20240812</tspan></text></g>
<g transform="translate(551.6,487.85) rotate(-45)"><text fill="#000"><tspan x="-40.18" y="0" font-size="10.67" textLength="40.08" lengthAdjust="spacingAndGlyphs">20241030</tspan></text></g>
<g transform="translate(550.96,688) rotate(-45)"><text fill="#000"><tspan x="-40.18" y="0" font-size="10.67" textLength="40.08" lengthAdjust="spacingAndGlyphs">20241030</tspan></text></g>
<g transform="translate(660.2,487.85) rotate(-45)"><text fill="#000"><tspan x="-40.18" y="0" font-size="10.67" textLength="40.08" lengthAdjust="spacingAndGlyphs">20250109</tspan></text></g>
<g transform="translate(659.93,688) rotate(-45)"><text fill="#000"><tspan x="-40.18" y="0" font-size="10.67" textLength="40.08" lengthAdjust="spacingAndGlyphs">20250109</tspan></text></g>
<g transform="translate(769.8,487.85) rotate(-45)"><text fill="#000"><tspan x="-40.18" y="0" font-size="10.67" textLength="40.08" lengthAdjust="spacingAndGlyphs">20250328</tspan></text></g>
<g transform="translate(768.89,688) rotate(-45)"><text fill="#000"><tspan x="-40.18" y="0" font-size="10.67" textLength="40.08" lengthAdjust="spacingAndGlyphs">20250328</tspan></text></g>
<g transform="translate(878.8,487.85) rotate(-45)"><text fill="#000"><tspan x="-40.18" y="0" font-size="10.67" textLength="40.08" lengthAdjust="spacingAndGlyphs">20250613</tspan></text></g>
<g transform="translate(877.86,688) rotate(-45)"><text fill="#000"><tspan x="-40.18" y="0" font-size="10.67" textLength="40.08" lengthAdjust="spacingAndGlyphs">20250613</tspan></text></g>
<g transform="translate(987.7,487.85) rotate(-45)"><text fill="#000"><tspan x="-40.18" y="0" font-size="10.67" textLength="40.08" lengthAdjust="spacingAndGlyphs">20250822</tspan></text></g>
<g transform="translate(986.82,688) rotate(-45)"><text fill="#000"><tspan x="-40.18" y="0" font-size="10.67" textLength="40.08" lengthAdjust="spacingAndGlyphs">20250822</tspan></text></g>
<g transform="translate(1096.3,487.85) rotate(-45)"><text fill="#000"><tspan x="-40.18" y="0" font-size="10.67" textLength="40.08" lengthAdjust="spacingAndGlyphs">20251110</tspan></text></g>
<g transform="translate(1095.79,688) rotate(-45)"><text fill="#000"><tspan x="-40.18" y="0" font-size="10.67" textLength="40.08" lengthAdjust="spacingAndGlyphs">20251110</tspan></text></g>
<g transform="translate(34.9,274.5) rotate(-90)"><text fill="#000"><tspan x="-12.09" y="-0.44" font-size="11.58" letter-spacing="1.01">价格</tspan></text></g>
<g transform="translate(27.9,609.2) rotate(-90)"><text fill="#000"><tspan x="-18.38" y="-0.44" font-size="11.58" letter-spacing="1.01">成交量</tspan></text></g>
<text fill="#000"><tspan x="642.82" y="732.96" font-size="11.58" letter-spacing="1.01">交易日</tspan></text>
<text fill="#000" stroke="#000" stroke-width="0.2"><tspan x="445.59" y="46.5" font-size="14.73" textLength="55.32" lengthAdjust="spacingAndGlyphs">SZ300892</tspan> <tspan x="508.56" y="46.01" font-size="12.79" letter-spacing="1.11">品渥食品</tspan> <tspan x="571.13" y="47.61" font-size="17.38">-</tspan> <tspan x="585.01" y="46.01" font-size="12.79" letter-spacing="1.11">收敛三角形</tspan> <tspan x="662.06" y="46.5" font-size="13.9">(</tspan><tspan x="668.41" y="46.01" font-size="12.79" letter-spacing="1.11">检测窗口</tspan><tspan x="724.15" y="46.5" font-size="13.9">:</tspan> <tspan x="737.49" y="46.5" font-size="14.73" textLength="55.32" lengthAdjust="spacingAndGlyphs">20250123</tspan> <tspan x="799.32" y="42.33" font-size="13.9">~</tspan> <tspan x="813.94" y="46.5" font-size="14.73" textLength="55.32" lengthAdjust="spacingAndGlyphs">20260120</tspan><tspan x="870.56" y="46.5" font-size="13.9">)</tspan></text>
<text fill="#000" stroke="#000" stroke-width="0.2"><tspan x="247.93" y="62.21" font-size="12.79" letter-spacing="1.11">显示范围</tspan><tspan x="303.67" y="62.7" font-size="13.9">:</tspan> <tspan x="317.01" y="62.7" font-size="14.73" textLength="55.32" lengthAdjust="spacingAndGlyphs">20231227</tspan> <tspan x="378.84" y="58.53" font-size="13.9">~</tspan> <tspan x="393.46" y="62.7" font-size="14.73" textLength="55.32" lengthAdjust="spacingAndGlyphs">20260120</tspan> <tspan x="457.04" y="62.7" font-size="13.9">(</tspan><tspan x="462.96" y="62.7" font-size="14.73" textLength="20.57" lengthAdjust="spacingAndGlyphs">500</tspan><tspan x="484.23" y="62.21" font-size="12.79" letter-spacing="1.11">个交易日</tspan><tspan x="540.44" y="62.7" font-size="13.9">)</tspan> <tspan x="560.68" y="62.21" font-size="12.79" letter-spacing="1.11">突破方向</tspan><tspan x="616.42" y="62.7" font-size="13.9">:</tspan> <tspan x="629.76" y="62.7" font-size="14.73" textLength="27.52" lengthAdjust="spacingAndGlyphs">down</tspan> <tspan x="671.88" y="62.21" font-size="12.79" letter-spacing="1.11">宽度比</tspan><tspan x="713.72" y="62.7" font-size="13.9">:</tspan> <tspan x="727.06" y="62.7" font-size="14.73" textLength="6.67" lengthAdjust="spacingAndGlyphs">0</tspan><tspan x="734.15" y="62.7" font-size="13.9">.</tspan><tspan x="740.96" y="62.7" font-size="14.73" textLength="13.62" lengthAdjust="spacingAndGlyphs">01</tspan> <tspan x="769.18" y="62.21" font-size="12.79" letter-spacing="1.11">枢轴点</tspan><tspan x="811.02" y="62.7" font-size="13.9">:</tspan> <tspan x="824.78" y="62.21" font-size="12.79" letter-spacing="1.11">高</tspan><tspan x="838.26" y="62.7" font-size="14.73" textLength="6.67" lengthAdjust="spacingAndGlyphs">6</tspan><tspan x="846.62" y="62.7" font-size="13.9">/</tspan><tspan x="852.58" y="62.21" font-size="12.79" letter-spacing="1.11">低</tspan><tspan x="866.06" y="62.7" font-size="14.73" textLength="6.67" lengthAdjust="spacingAndGlyphs">4</tspan> <tspan x="887.33" y="62.21" font-size="12.79" letter-spacing="1.11">触碰</tspan><tspan x="915.27" y="62.7" font-size="13.9">:</tspan> <tspan x="929.03" y="62.21" font-size="12.79" letter-spacing="1.11">上</tspan><tspan x="942.51" y="62.7" font-size="14.73" textLength="6.67" lengthAdjust="spacingAndGlyphs">4</tspan><tspan x="950.87" y="62.7" font-size="13.9">/</tspan><tspan x="956.83" y="62.21" font-size="12.79" letter-spacing="1.11">下</tspan><tspan x="970.31" y="62.7" font-size="14.73" textLength="6.67" lengthAdjust="spacingAndGlyphs">4</tspan> <tspan x="991.58" y="62.21" font-size="12.79" letter-spacing="1.11">放量确认</tspan><tspan x="1047.32" y="62.7" font-size="13.9">:</tspan> <tspan x="1061.08" y="62.21" font-size="12.79" letter-spacing="1.11">否</tspan></text>
<rect x="68.5" y="81.3" width="136.6" height="115.6" rx="2.5" ry="2.5" fill="#fff" fill-opacity="0.8" stroke="#cccccc" stroke-opacity="0.8" stroke-width="1"/>
<path d="M72.4 90.5H95.1" stroke="#4a4a4a" stroke-width="1.9" stroke-linecap="square" fill="none"/>
<path d="M72.4 105.6H95.1" stroke="#ff0000" stroke-width="2.6" stroke-dasharray="9.316 4.028" fill="none"/>
<path d="M72.4 121.4H95.1" stroke="#008000" stroke-width="2.6" stroke-dasharray="9.316 4.028" fill="none"/>
<circle cx="83.2" cy="138.25" r="4.45" fill="#ff0000" fill-opacity="0.4"/>
<circle cx="83.2" cy="154.5" r="4.45" fill="#008000" fill-opacity="0.4"/>
<circle cx="83.2" cy="171.4" r="7.0" fill="none" stroke="#ff0000" stroke-width="3.2"/>
<circle cx="83.2" cy="188.0" r="7.0" fill="none" stroke="#008000" stroke-width="3.2"/>
<text fill="#000"><tspan x="104.55" y="94.2" font-size="10.42" letter-spacing="0.91">收盘价</tspan></text>
<text fill="#000"><tspan x="104.55" y="109.3" font-size="10.42" letter-spacing="0.91">上沿</tspan></text>
<text fill="#000"><tspan x="104.55" y="125.1" font-size="10.42" letter-spacing="0.91">下沿</tspan></text>
<text fill="#000"><tspan x="104.55" y="141.95" font-size="10.42" letter-spacing="0.91">所有高点枢轴点</tspan><tspan x="184.36" y="142.35" font-size="11.33">(</tspan><tspan x="189.19" y="142.35" font-size="12.01" textLength="5.44" lengthAdjust="spacingAndGlyphs">6</tspan><tspan x="195.69" y="142.35" font-size="11.33">)</tspan></text>
<text fill="#000"><tspan x="104.55" y="158.2" font-size="10.42" letter-spacing="0.91">所有低点枢轴点</tspan><tspan x="184.36" y="158.6" font-size="11.33">(</tspan><tspan x="189.19" y="158.6" font-size="12.01" textLength="5.44" lengthAdjust="spacingAndGlyphs">4</tspan><tspan x="195.69" y="158.6" font-size="11.33">)</tspan></text>
<text fill="#000"><tspan x="104.55" y="175.1" font-size="10.42" letter-spacing="0.91">上沿拟合点</tspan><tspan x="161.7" y="175.5" font-size="11.33">(</tspan><tspan x="166.53" y="175.5" font-size="12.01" textLength="5.44" lengthAdjust="spacingAndGlyphs">3</tspan><tspan x="173.03" y="175.5" font-size="11.33">)</tspan></text>
<text fill="#000"><tspan x="104.55" y="191.7" font-size="10.42" letter-spacing="0.91">下沿拟合点</tspan><tspan x="161.7" y="192.1" font-size="11.33">(</tspan><tspan x="166.53" y="192.1" font-size="12.01" textLength="5.44" lengthAdjust="spacingAndGlyphs">4</tspan><tspan x="173.03" y="192.1" font-size="11.33">)</tspan></text>
</svg>
</body></html>
